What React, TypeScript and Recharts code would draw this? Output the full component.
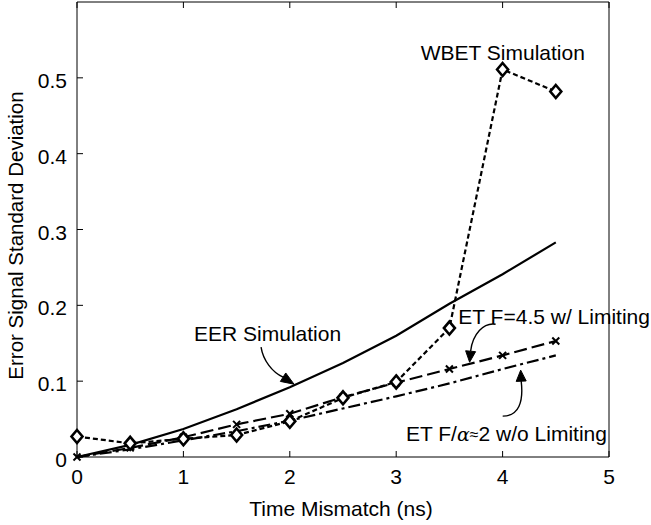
import React from 'react';
import { LineChart, Line, XAxis, YAxis, ReferenceDot } from 'recharts';

const timeMismatch = [0, 0.5, 1, 1.5, 2, 2.5, 3, 3.5, 4, 4.5];
const eerSimulation = [0, 0.016, 0.037, 0.063, 0.092, 0.124, 0.16, 0.202, 0.241, 0.283];
const wbetSimulation = [0.027, 0.018, 0.024, 0.029, 0.047, 0.078, 0.099, 0.17, 0.511, 0.482];
const etWithLimiting = [0, 0.012, 0.026, 0.043, 0.057, 0.079, 0.098, 0.116, 0.134, 0.153];
const etWithoutLimiting = [0, 0.01, 0.022, 0.034, 0.048, 0.064, 0.08, 0.097, 0.116, 0.134];

const xTicks = [0, 1, 2, 3, 4, 5];
const yTicks = [0, 0.1, 0.2, 0.3, 0.4, 0.5];
const xTitle = 'Time Mismatch (ns)';
const yTitle = 'Error Signal Standard Deviation';

const labelX = [3.23, 1.1, 3.584, 3.092];
const labelY = [0.524, 0.153, 0.176, 0.0214];
const arrowTipX = [2.04, 3.69, 4.17];
const arrowTipY = [0.096, 0.125, 0.1145];

const data = timeMismatch.map((t, i) => ({
  t,
  eer: eerSimulation[i],
  wbet: wbetSimulation[i],
  etLim: etWithLimiting[i],
  etNoLim: etWithoutLimiting[i],
}));

const FONT = '"Liberation Sans", Arial, Helvetica, sans-serif';
const INK = '#000';

const BottomTick = (props: any) => {
  const { x, y, payload } = props;
  return (
    <g>
      <line x1={x} y1={y} x2={x} y2={y - 6} stroke={INK} strokeWidth={1} />
      <text x={x} y={y + 27} textAnchor="middle" fontSize={21} fontFamily={FONT} fill={INK}>
        {String(payload.value)}
      </text>
    </g>
  );
};

const TopTick = (props: any) => {
  const { x, y } = props;
  return <line x1={x} y1={y} x2={x} y2={y + 6} stroke={INK} strokeWidth={1} />;
};

const LeftTick = (props: any) => {
  const { x, y, payload } = props;
  return (
    <g>
      <line x1={x} y1={y} x2={x + 6} y2={y} stroke={INK} strokeWidth={1} />
      <text x={x - 10} y={y + 10} textAnchor="end" fontSize={21} fontFamily={FONT} fill={INK}>
        {String(payload.value)}
      </text>
    </g>
  );
};

const RightTick = (props: any) => {
  const { x, y } = props;
  return <line x1={x} y1={y} x2={x - 6} y2={y} stroke={INK} strokeWidth={1} />;
};

const XTitle = (props: any) => {
  const vb = props.viewBox || {};
  return (
    <text x={vb.x + vb.width / 2 - 2} y={vb.y + 59} textAnchor="middle" fontSize={21} fontFamily={FONT} fill={INK}>
      {xTitle}
    </text>
  );
};

const YTitle = (props: any) => {
  const vb = props.viewBox || {};
  const cx = 23;
  const cy = vb.y + vb.height / 2 + 6;
  return (
    <text
      x={cx}
      y={cy}
      transform={`rotate(-90, ${cx}, ${cy})`}
      textAnchor="middle"
      fontSize={20.5}
      fontFamily={FONT}
      fill={INK}
    >
      {yTitle}
    </text>
  );
};

const Diamond = (props: any) => {
  const { cx, cy, index } = props;
  if (cx == null || cy == null) return <g key={`d${index}`} />;
  return (
    <polygon
      key={`d${index}`}
      points={`${cx},${cy - 6.5} ${cx + 5.5},${cy} ${cx},${cy + 6.5} ${cx - 5.5},${cy}`}
      fill="#fff"
      stroke={INK}
      strokeWidth={2.6}
      strokeLinejoin="miter"
    />
  );
};

const Cross = (props: any) => {
  const { cx, cy, index } = props;
  if (cx == null || cy == null) return <g key={`x${index}`} />;
  const s = 3.5;
  return (
    <g key={`x${index}`}>
      <line x1={cx - s} y1={cy - s} x2={cx + s} y2={cy + s} stroke={INK} strokeWidth={2} />
      <line x1={cx - s} y1={cy + s} x2={cx + s} y2={cy - s} stroke={INK} strokeWidth={2} />
    </g>
  );
};

const makeText = (content: React.ReactNode) => (props: any) => {
  const { cx, cy } = props;
  return (
    <text x={cx} y={cy} fontSize={21} fontFamily={FONT} fill={INK}>
      {content}
    </text>
  );
};

const makeArrow = (d: string, base: [number, number]) => (props: any) => {
  const { cx, cy } = props;
  const [bx, by] = base;
  const len = Math.hypot(bx, by);
  const ux = -bx / len;
  const uy = -by / len;
  const px = -uy;
  const py = ux;
  const hw = 5;
  const pts = `0,0 ${bx + px * hw},${by + py * hw} ${bx - px * hw},${by - py * hw}`;
  return (
    <g transform={`translate(${cx},${cy})`}>
      <path d={d} fill="none" stroke={INK} strokeWidth={1.4} />
      <polygon points={pts} fill={INK} stroke={INK} strokeWidth={1} />
    </g>
  );
};

const labelShapes = [
  makeText('WBET Simulation'),
  makeText('EER Simulation'),
  makeText('ET F=4.5 w/ Limiting'),
  makeText(
    <>
      {'ET F/'}
      <tspan fontStyle="italic" fontFamily='"DejaVu Serif", serif' fontSize={19}>
        α
      </tspan>
      <tspan fontSize={16} dy={-1}>≈</tspan>
      <tspan dy={1}>2 w/o Limiting</tspan>
    </>
  ),
];

const arrowShapes = [
  makeArrow('M -33 -37 C -31 -24 -22 -12 -11 -7', [-11, -7]),
  makeArrow('M 26 -38 C 14 -40 3 -28 1 -11', [1, -11]),
  makeArrow('M -18 46 C -2 46 3 32 0.5 11', [0.5, 11]),
];

export default function App() {
  return (
    <div style={{ position: 'absolute', left: 0, top: 0, background: '#fff' }}>
      <LineChart width={651} height={525} data={data} margin={{ top: 1, right: 41, bottom: 0, left: 0 }}>
        <XAxis
          xAxisId="b"
          dataKey="t"
          type="number"
          domain={[0, 5]}
          ticks={xTicks}
          interval={0}
          height={68}
          tickSize={0}
          tickMargin={0}
          tickLine={false}
          axisLine={{ stroke: INK, strokeWidth: 1 }}
          tick={<BottomTick />}
          label={<XTitle />}
        />
        <XAxis
          xAxisId="t"
          orientation="top"
          dataKey="t"
          type="number"
          domain={[0, 5]}
          ticks={xTicks}
          interval={0}
          height={1}
          tickSize={0}
          tickMargin={0}
          tickLine={false}
          axisLine={{ stroke: INK, strokeWidth: 1 }}
          tick={<TopTick />}
        />
        <YAxis
          yAxisId="l"
          type="number"
          domain={[0, 0.6]}
          ticks={yTicks}
          interval={0}
          width={77}
          tickSize={0}
          tickMargin={0}
          tickLine={false}
          axisLine={{ stroke: INK, strokeWidth: 1 }}
          tick={<LeftTick />}
          label={<YTitle />}
        />
        <YAxis
          yAxisId="r"
          orientation="right"
          type="number"
          domain={[0, 0.6]}
          ticks={yTicks}
          interval={0}
          width={1}
          tickSize={0}
          tickMargin={0}
          tickLine={false}
          axisLine={{ stroke: INK, strokeWidth: 1 }}
          tick={<RightTick />}
        />
        <Line
          xAxisId="b"
          yAxisId="l"
          type="linear"
          dataKey="eer"
          stroke={INK}
          strokeWidth={2.2}
          dot={false}
          isAnimationActive={false}
        />
        <Line
          xAxisId="b"
          yAxisId="l"
          type="linear"
          dataKey="etNoLim"
          stroke={INK}
          strokeWidth={2.2}
          strokeDasharray="12 4 3 4"
          dot={false}
          isAnimationActive={false}
        />
        <Line
          xAxisId="b"
          yAxisId="l"
          type="linear"
          dataKey="etLim"
          stroke={INK}
          strokeWidth={2.2}
          strokeDasharray="13 5"
          dot={(p: any) => <Cross key={`c${p.index}`} {...p} />}
          isAnimationActive={false}
        />
        <Line
          xAxisId="b"
          yAxisId="l"
          type="linear"
          dataKey="wbet"
          stroke={INK}
          strokeWidth={2.2}
          strokeDasharray="5 3"
          dot={(p: any) => <Diamond key={`w${p.index}`} {...p} />}
          isAnimationActive={false}
        />
        {arrowShapes.map((shape, i) => (
          <ReferenceDot
            key={`a${i}`}
            xAxisId="b"
            yAxisId="l"
            x={arrowTipX[i]}
            y={arrowTipY[i]}
            r={1}
            ifOverflow="visible"
            shape={shape}
          />
        ))}
        {labelShapes.map((shape, i) => (
          <ReferenceDot
            key={`l${i}`}
            xAxisId="b"
            yAxisId="l"
            x={labelX[i]}
            y={labelY[i]}
            r={1}
            ifOverflow="visible"
            shape={shape}
          />
        ))}
      </LineChart>
    </div>
  );
}
